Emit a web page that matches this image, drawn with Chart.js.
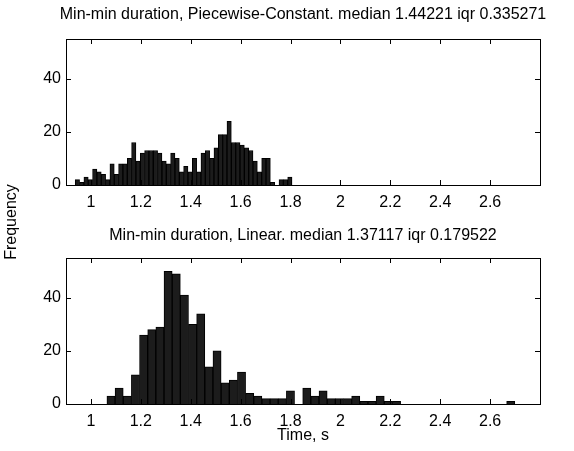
<!DOCTYPE html>
<html>
<head>
<meta charset="utf-8">
<script src="https://cdn.jsdelivr.net/npm/chart.js@4.4.1/dist/chart.umd.min.js"></script>
<style>
  body { margin: 0; background: #fff; }
  #wrap { position: relative; width: 574px; height: 451px; }
  canvas { position: absolute; left: 0; top: 0; }
</style>
</head>
<body>
<div id="wrap">
  <canvas id="chartTop" width="574" height="451"></canvas>
  <canvas id="chartBottom" width="574" height="451"></canvas>
</div>
<script>
// tick labels
var xTicks = [1, 1.2, 1.4, 1.6, 1.8, 2, 2.2, 2.4, 2.6];
var yTicks = [0, 20, 40];

// Piecewise-Constant histogram (50 bins)
var pcTitle = 'Min-min duration, Piecewise-Constant. median 1.44221 iqr 0.335271';
var pcBinStart = 0.937;
var pcBinWidth = 0.01738;
var pcCounts = [2,1,3,2,6,5,4,2,8,4, 8,8,10,16,9,12,13,13,13,12,
                9,8,12,10,5,7,5,10,5,12, 13,10,14,19,19,24,16,16,15,14,
                13,9,5,10,10,1,0,2,2,3];

// Linear histogram (50 bins)
var linTitle = 'Min-min duration, Linear. median 1.37117 iqr 0.179522';
var linBinStart = 1.064;
var linBinWidth = 0.0327;
var linCounts = [3,6,3,11,26,28,29,50,49,41, 30,34,14,20,8,9,12,4,3,2,
                 2,2,5,0,6,3,5,2,2,2, 3,1,1,3,1,1,0,0,0,0,
                 0,0,0,0,0,0,0,0,0,1];

var FONT = '"Liberation Sans", Arial, Helvetica, sans-serif';

function toPoints(start, width, counts) {
  return counts.map(function (c, i) {
    return { x: start + width * (i + 0.5), y: c };
  });
}

// matlab style box with inward ticks + extra labels
var boxPlugin = {
  id: 'matlabBox',
  afterDraw: function (chart, args, opts) {
    var ctx = chart.ctx;
    var a = chart.chartArea;
    var xs = chart.scales.x, ys = chart.scales.y;
    ctx.save();
    ctx.strokeStyle = '#000';
    ctx.lineWidth = 1;
    ctx.strokeRect(Math.round(a.left) + 0.5, Math.round(a.top) + 0.5,
                   Math.round(a.right - a.left), Math.round(a.bottom - a.top));
    ctx.beginPath();
    xTicks.forEach(function (t) {
      var px = Math.round(xs.getPixelForValue(t)) + 0.5;
      ctx.moveTo(px, a.bottom); ctx.lineTo(px, a.bottom - 5);
      ctx.moveTo(px, a.top); ctx.lineTo(px, a.top + 5);
    });
    yTicks.forEach(function (t) {
      var py = Math.round(ys.getPixelForValue(t)) + 0.5;
      ctx.moveTo(a.left, py); ctx.lineTo(a.left + 5, py);
      ctx.moveTo(a.right, py); ctx.lineTo(a.right - 5, py);
    });
    ctx.stroke();

    ctx.fillStyle = '#000';
    ctx.font = '16px ' + FONT;
    ctx.textAlign = 'center';
    ctx.textBaseline = 'middle';
    ctx.fillText(opts.title, (a.left + a.right) / 2, opts.titleY);
    if (opts.xlabel) {
      ctx.fillText(opts.xlabel, (a.left + a.right) / 2, opts.xlabelY);
    }
    if (opts.ylabel) {
      ctx.translate(opts.ylabelX, opts.ylabelY);
      ctx.rotate(-Math.PI / 2);
      ctx.fillText(opts.ylabel, 0, 0);
    }
    ctx.restore();
  }
};

function makeChart(id, points, padTop, padBottom, pluginOpts) {
  return new Chart(document.getElementById(id), {
    type: 'bar',
    data: {
      datasets: [{
        data: points,
        backgroundColor: '#1c1c1c',
        borderColor: '#000',
        borderWidth: 1,
        barPercentage: 1,
        categoryPercentage: 1
      }]
    },
    options: {
      responsive: false,
      animation: false,
      layout: { padding: { left: 0, right: 34, top: padTop, bottom: padBottom } },
      plugins: {
        legend: { display: false },
        tooltip: { enabled: false },
        matlabBox: pluginOpts
      },
      scales: {
        x: {
          type: 'linear',
          min: 0.9,
          max: 2.8,
          offset: false,
          grid: { display: false, offset: false, drawTicks: false },
          border: { display: false },
          afterBuildTicks: function (s) {
            s.ticks = xTicks.map(function (v) { return { value: v }; });
          },
          afterFit: function (s) { s.height = 40; },
          ticks: {
            padding: 8,
            maxRotation: 0,
            color: '#000',
            font: { family: FONT, size: 16 },
            callback: function (v) { return String(v); }
          }
        },
        y: {
          min: 0,
          max: 55,
          grid: { display: false, drawTicks: false },
          border: { display: false },
          afterBuildTicks: function (s) {
            s.ticks = yTicks.map(function (v) { return { value: v }; });
          },
          afterFit: function (s) { s.width = 66; },
          ticks: {
            padding: 5,
            color: '#000',
            font: { family: FONT, size: 16 }
          }
        }
      }
    },
    plugins: [boxPlugin]
  });
}

// top plot: area 39..185
makeChart('chartTop', toPoints(pcBinStart, pcBinWidth, pcCounts), 39, 226, {
  title: pcTitle, titleY: 15,
  ylabel: 'Frequency', ylabelX: 12, ylabelY: 222
});

// bottom plot: area 258..404
makeChart('chartBottom', toPoints(linBinStart, linBinWidth, linCounts), 258, 7, {
  title: linTitle, titleY: 236,
  xlabel: 'Time, s', xlabelY: 436
});
</script>
</body>
</html>
